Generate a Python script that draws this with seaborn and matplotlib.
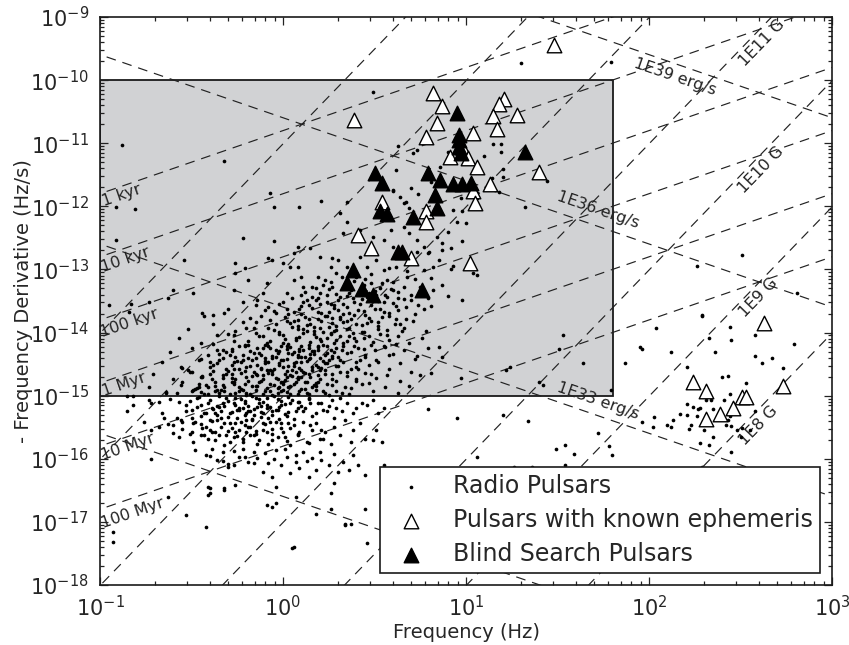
import matplotlib
matplotlib.use("Agg")
import numpy as np
import pandas as pd
import matplotlib.pyplot as plt
import seaborn as sns
from matplotlib.patches import Rectangle
from matplotlib.ticker import LogLocator, FixedLocator, NullFormatter

# ---------------- data (log10 frequency [Hz], log10 -fdot [Hz/s]) ----------------
radio_upper = [
    (0.49,-10.19),(-0.88,-11.03),(-0.32,-11.28),(0.63,-11.04),(0.62,-11.42),(0.71,-11.16),(-0.07,-11.79),
    (-0.05,-12.01),(0.09,-12.01),(0.21,-11.92),(0.60,-11.74),(0.64,-11.85),(0.66,-11.95),(0.69,-12.03),
    (0.35,-11.93),(-0.91,-12.01),(-0.81,-12.04),(-0.91,-12.53),(-0.22,-12.50),(-0.05,-12.55),(0.31,-12.11),
    (0.35,-12.25),(0.42,-12.38),(0.33,-12.42),(0.38,-12.53),(0.49,-12.49),(0.55,-12.53),(0.59,-12.38),
    (0.66,-12.33),(0.69,-12.42),(0.60,-12.64),(0.66,-12.74),(0.73,-12.53),(0.77,-12.64),(0.08,-12.64),
    (0.15,-12.66),(0.20,-12.80),(0.27,-12.82),(0.30,-12.85),(0.06,-12.74),(-0.08,-12.82),(-0.06,-12.85),
    (0.00,-12.90),(0.04,-12.96),(-0.26,-12.90),(-0.21,-12.98),(-0.54,-12.85),(-0.60,-13.33),(-0.95,-13.56),
    (-0.84,-13.68),(-0.73,-13.52),(-0.63,-13.45),(-0.49,-13.37),(-0.44,-13.69),(-0.38,-13.72),(-0.32,-13.69),
    (-0.27,-13.33),(-0.26,-13.06),(-0.22,-13.52),(-0.19,-13.17),(-0.14,-13.48),(-0.11,-13.37),(-0.09,-13.22),
    (-0.08,-13.60),(-0.04,-13.69),(0.02,-13.37),(0.06,-13.17),(0.08,-12.96),(0.10,-13.12),(0.11,-13.28),
    (0.13,-13.48),(0.16,-13.28),(0.19,-13.12),(0.20,-13.37),(0.23,-13.17),(0.26,-12.96),(0.27,-13.28),
    (0.30,-13.48),(0.32,-13.12),(0.35,-12.96),(0.37,-13.33),(0.40,-13.12),(0.42,-12.80),(0.46,-12.96),
    (0.48,-13.22),(0.51,-12.85),(0.55,-13.01),(0.57,-13.17),(0.60,-13.33),(0.62,-12.96),(0.64,-12.74),
    (0.68,-13.12),(0.71,-12.90),(0.75,-13.28),(0.77,-13.01),(0.79,-12.74),
    (0.35,-13.42),(0.42,-13.55),(0.47,-13.38),(0.52,-13.50),(0.57,-13.44),(0.62,-13.58),(0.66,-13.47),
    (0.70,-13.40),(0.74,-13.56),(0.44,-13.25),(0.53,-13.30),(0.60,-13.20),(0.66,-13.28),(0.72,-13.15),
    (0.28,-13.57),(0.20,-13.55),(0.10,-13.58),(0.00,-13.52),(-0.15,-13.57),(0.16,-13.44),(0.24,-13.40),
    (0.40,-13.05),(0.48,-13.08),(0.58,-12.98),(0.68,-13.03),(0.79,-13.45),(0.82,-13.32),
    (0.14,-13.57),(0.19,-13.45),(0.24,-13.52),(0.29,-13.39),(0.33,-13.55),(0.38,-13.46),(0.42,-13.33),
    (0.46,-13.44),(0.51,-13.40),(0.55,-13.52),(0.59,-13.31),(0.63,-13.45),(0.34,-13.27),(0.45,-13.15),
    (0.54,-13.22),(0.26,-13.20),(0.18,-13.30),(0.10,-13.40),(0.02,-13.62),(0.08,-13.80),(0.17,-13.91),
    (0.27,-13.77),(0.36,-13.69),(0.46,-13.85),(0.55,-13.68),(0.62,-13.79),(-0.07,-13.80),(-0.16,-13.92),
]
radio_young = [
    (1.30,-9.73),(1.79,-9.71),(0.73,-11.11),(0.90,-11.14),(1.10,-11.20),(1.15,-11.01),(1.19,-11.01),
    (1.19,-11.14),(0.86,-11.38),(0.81,-11.61),(0.92,-11.69),(0.60,-11.76),(0.70,-11.71),(0.67,-11.93),
    (0.74,-11.81),(1.01,-11.31),(1.20,-11.41),(1.20,-11.54),(1.14,-11.55),(1.16,-11.74),(1.18,-11.77),
    (1.06,-11.87),(1.06,-11.79),(0.97,-11.87),(0.93,-12.06),(0.95,-12.25),(1.00,-12.26),(0.98,-12.07),
    (1.32,-12.01),(1.44,-11.60),(0.90,-12.41),(0.84,-12.49),(0.87,-12.58),(0.92,-12.66),(0.98,-12.55),
    (0.87,-12.69),(0.80,-12.72),(0.73,-12.72),(0.85,-12.85),(0.82,-12.96),(0.92,-12.99),(1.04,-13.06),
    (0.87,-13.25),(0.98,-13.48),(1.06,-13.09),(0.93,-12.95),(0.90,-13.42),(0.81,-13.58),(0.81,-13.14),
]
radio_core = [
    (-0.43,-13.74),(-0.30,-13.62),(-0.18,-13.77),(-0.05,-13.66),(0.03,-13.71),(0.09,-13.63),(0.14,-13.79),
    (0.19,-13.68),(0.24,-13.74),(0.28,-13.61),(0.33,-13.70),(0.37,-13.78),(0.41,-13.65),(0.45,-13.72),
    (0.50,-13.62),(0.54,-13.76),(0.58,-13.69),(0.63,-13.64),(0.67,-13.78),(0.72,-13.70),(0.77,-13.63),
    (0.12,-13.75),(0.31,-13.79),
    (-0.52,-13.95),(-0.38,-13.86),(-0.26,-13.97),(-0.15,-13.83),(-0.08,-13.92),(-0.02,-13.99),(0.04,-13.85),
    (0.08,-13.94),(0.13,-13.88),(0.17,-13.98),(0.21,-13.82),(0.25,-13.91),(0.29,-13.96),(0.33,-13.84),
    (0.36,-13.93),(0.40,-13.87),(0.44,-13.99),(0.48,-13.81),(0.52,-13.90),(0.57,-13.96),(0.61,-13.86),
    (0.66,-13.93),(0.71,-13.82),(0.78,-13.97),(0.22,-13.99),(0.02,-13.81),
    (-0.57,-14.08),(-0.45,-14.16),(-0.36,-14.04),(-0.27,-14.13),(-0.19,-14.19),(-0.13,-14.06),(-0.07,-14.14),
    (-0.02,-14.02),(0.03,-14.18),(0.07,-14.09),(0.11,-14.01),(0.15,-14.15),(0.18,-14.07),(0.22,-14.19),
    (0.26,-14.03),(0.29,-14.12),(0.33,-14.17),(0.36,-14.05),(0.40,-14.14),(0.44,-14.08),(0.48,-14.19),
    (0.53,-14.03),(0.58,-14.12),(0.63,-14.06),(0.69,-14.16),(0.76,-14.09),(0.01,-14.11),(0.20,-14.11),
    (0.38,-14.01),(-0.10,-14.20),
    (-0.62,-14.31),(-0.50,-14.24),(-0.41,-14.36),(-0.33,-14.27),(-0.26,-14.38),(-0.21,-14.22),(-0.16,-14.32),
    (-0.11,-14.25),(-0.06,-14.37),(-0.02,-14.29),(0.02,-14.21),(0.05,-14.34),(0.09,-14.26),(0.12,-14.39),
    (0.16,-14.30),(0.19,-14.23),(0.23,-14.35),(0.26,-14.27),(0.30,-14.38),(0.33,-14.22),(0.37,-14.31),
    (0.41,-14.25),(0.45,-14.36),(0.50,-14.28),(0.55,-14.21),(0.60,-14.34),(0.66,-14.27),(0.73,-14.37),
    (0.79,-14.24),(-0.08,-14.22),(0.14,-14.24),(0.28,-14.31),(0.08,-14.38),(-0.28,-14.30),
    (-0.66,-14.47),(-0.55,-14.56),(-0.46,-14.43),(-0.38,-14.52),(-0.31,-14.58),(-0.25,-14.45),(-0.20,-14.54),
    (-0.15,-14.41),(-0.10,-14.49),(-0.05,-14.57),(-0.01,-14.44),(0.03,-14.53),(0.07,-14.46),(0.10,-14.59),
    (0.14,-14.42),(0.18,-14.51),(0.21,-14.56),(0.25,-14.44),(0.29,-14.53),(0.33,-14.47),(0.37,-14.58),
    (0.42,-14.43),(0.47,-14.52),(0.52,-14.46),(0.58,-14.57),(0.64,-14.49),(0.72,-14.42),(-0.22,-14.43),
    (0.00,-14.55),(0.16,-14.59),(-0.12,-14.58),(0.27,-14.41),(0.40,-14.55),(-0.35,-14.44),
    (-0.71,-14.66),(-0.60,-14.74),(-0.51,-14.63),(-0.44,-14.71),(-0.37,-14.78),(-0.31,-14.65),(-0.26,-14.73),
    (-0.21,-14.61),(-0.17,-14.69),(-0.12,-14.77),(-0.08,-14.64),(-0.04,-14.72),(0.00,-14.79),(0.04,-14.67),
    (0.08,-14.74),(0.11,-14.62),(0.15,-14.70),(0.19,-14.78),(0.23,-14.65),(0.27,-14.73),(0.31,-14.62),
    (0.35,-14.69),(0.40,-14.76),(0.45,-14.64),(0.51,-14.72),(0.57,-14.67),(0.64,-14.77),(0.70,-14.63),
    (-0.28,-14.79),(-0.06,-14.61),(0.13,-14.79),(0.02,-14.70),(-0.15,-14.66),(-0.40,-14.66),
    (-0.73,-14.86),(-0.64,-14.95),(-0.56,-14.83),(-0.49,-14.91),(-0.43,-14.98),(-0.37,-14.85),(-0.32,-14.93),
    (-0.27,-14.81),(-0.23,-14.89),(-0.18,-14.97),(-0.14,-14.84),(-0.10,-14.92),(-0.06,-14.99),(-0.02,-14.87),
    (0.02,-14.94),(0.06,-14.82),(0.10,-14.90),(0.14,-14.97),(0.18,-14.85),(0.22,-14.92),(0.27,-14.83),
    (0.32,-14.95),(0.37,-14.88),(0.43,-14.81),(0.49,-14.93),(0.56,-14.86),(0.63,-14.96),(0.69,-14.84),
    (-0.46,-14.81),(-0.20,-14.99),(0.00,-14.82),(0.25,-14.99),(-0.35,-14.96),(0.08,-14.98),
    (-0.83,-13.55),(-0.85,-15.01),(-0.82,-15.00),(-0.56,-14.55),(-0.52,-14.59),(-0.45,-14.71),(-0.36,-14.48),
    (-0.31,-14.31),(-0.27,-14.04),(-0.21,-14.20),(-0.47,-14.88),(-0.41,-14.86),(-0.36,-14.91),(-0.64,-14.94),
]
radio_core_dense = [
    (0.05,-13.46),(0.12,-13.35),(0.18,-13.49),(0.25,-13.31),(0.31,-13.44),(0.36,-13.38),(0.43,-13.47),
    (0.50,-13.34),(0.56,-13.41),(0.63,-13.36),(0.70,-13.49),(0.22,-13.24),(0.39,-13.19),(0.29,-13.05),
    (-0.10,-13.64),(-0.02,-13.55),(0.06,-13.68),(0.11,-13.52),(0.16,-13.61),(0.21,-13.69),(0.26,-13.54),
    (0.30,-13.65),(0.35,-13.59),(0.39,-13.51),(0.44,-13.66),(0.48,-13.57),(0.53,-13.63),(0.60,-13.53),
    (0.67,-13.60),(0.25,-13.67),
    (-0.22,-13.83),(-0.12,-13.74),(-0.04,-13.87),(0.01,-13.76),(0.06,-13.82),(0.10,-13.71),(0.15,-13.86),
    (0.19,-13.78),(0.23,-13.73),(0.27,-13.85),(0.31,-13.76),(0.35,-13.81),(0.39,-13.72),(0.43,-13.88),
    (0.47,-13.77),(0.52,-13.84),(0.58,-13.74),(0.64,-13.87),(0.08,-13.89),(0.29,-13.89),
    (-0.30,-14.02),(-0.20,-13.93),(-0.11,-14.06),(-0.05,-13.96),(0.00,-14.04),(0.05,-13.91),(0.09,-14.07),
    (0.13,-13.98),(0.17,-14.03),(0.20,-13.92),(0.24,-14.09),(0.28,-13.97),(0.31,-14.05),(0.35,-13.94),
    (0.39,-14.08),(0.43,-13.99),(0.47,-14.06),(0.52,-13.95),(0.57,-14.04),(0.65,-13.98),(0.11,-13.94),
    (0.26,-14.01),(-0.15,-14.00),
    (-0.38,-14.18),(-0.28,-14.26),(-0.19,-14.13),(-0.14,-14.24),(-0.09,-14.16),(-0.04,-14.28),(0.00,-14.17),
    (0.04,-14.23),(0.07,-14.12),(0.11,-14.27),(0.14,-14.19),(0.17,-14.29),(0.21,-14.14),(0.24,-14.22),
    (0.28,-14.17),(0.32,-14.28),(0.35,-14.13),(0.39,-14.21),(0.44,-14.26),(0.49,-14.15),(0.56,-14.23),
    (0.62,-14.18),(-0.01,-14.22),(0.19,-14.21),(0.09,-14.29),
    (-0.45,-14.42),(-0.35,-14.34),(-0.27,-14.46),(-0.22,-14.36),(-0.17,-14.44),(-0.13,-14.33),(-0.08,-14.47),
    (-0.04,-14.38),(0.00,-14.43),(0.03,-14.32),(0.06,-14.48),(0.10,-14.39),(0.13,-14.45),(0.17,-14.34),
    (0.20,-14.41),(0.24,-14.49),(0.27,-14.37),(0.31,-14.44),(0.35,-14.33),(0.40,-14.46),(0.45,-14.39),
    (0.51,-14.44),(0.58,-14.35),(-0.10,-14.41),(0.08,-14.35),(0.22,-14.45),
    (-0.50,-14.63),(-0.40,-14.55),(-0.33,-14.67),(-0.27,-14.57),(-0.23,-14.64),(-0.18,-14.53),(-0.14,-14.68),
    (-0.09,-14.59),(-0.06,-14.65),(-0.02,-14.52),(0.02,-14.61),(0.05,-14.69),(0.09,-14.56),(0.12,-14.64),
    (0.16,-14.54),(0.19,-14.67),(0.23,-14.59),(0.27,-14.65),(0.30,-14.53),(0.35,-14.62),(0.41,-14.57),
    (0.48,-14.66),(-0.12,-14.56),(0.07,-14.62),(-0.30,-14.61),
    (-0.55,-14.78),(-0.46,-14.86),(-0.39,-14.74),(-0.33,-14.83),(-0.28,-14.72),(-0.24,-14.87),(-0.19,-14.77),
    (-0.15,-14.84),(-0.11,-14.73),(-0.07,-14.81),(-0.03,-14.88),(0.01,-14.75),(0.04,-14.84),(0.08,-14.71),
    (0.12,-14.79),(0.16,-14.86),(0.20,-14.74),(0.24,-14.82),(0.29,-14.77),(0.34,-14.87),(0.40,-14.73),
    (0.47,-14.80),(-0.21,-14.81),(-0.01,-14.79),(0.18,-14.80),
    (-0.58,-14.96),(-0.50,-14.92),(-0.41,-14.97),(-0.34,-14.91),(-0.29,-14.98),(-0.24,-14.93),(-0.20,-14.95),
    (-0.15,-14.91),(-0.11,-14.97),(-0.07,-14.93),(-0.03,-14.96),(0.00,-14.91),(0.04,-14.97),(0.09,-14.93),
    (0.13,-14.95),(0.18,-14.91),(0.23,-14.96),(0.29,-14.92),(0.36,-14.97),(-0.45,-14.94),(-0.26,-14.96),
]
radio_peak = [
    (-0.36,-14.27),(-0.29,-14.35),(-0.24,-14.21),(-0.18,-14.30),(-0.12,-14.36),(-0.07,-14.24),(-0.03,-14.33),
    (0.02,-14.26),(0.06,-14.31),(0.10,-14.22),(0.15,-14.34),(0.19,-14.27),(0.24,-14.32),(0.29,-14.24),
    (-0.40,-14.47),(-0.33,-14.41),(-0.28,-14.52),(-0.23,-14.47),(-0.19,-14.40),(-0.14,-14.51),(-0.10,-14.45),
    (-0.06,-14.40),(-0.02,-14.49),(0.02,-14.42),(0.06,-14.53),(0.10,-14.47),(0.15,-14.40),(0.19,-14.55),
    (0.23,-14.48),
    (-0.44,-14.69),(-0.38,-14.61),(-0.33,-14.72),(-0.28,-14.66),(-0.24,-14.58),(-0.20,-14.70),(-0.16,-14.63),
    (-0.11,-14.68),(-0.07,-14.60),(-0.03,-14.74),(0.01,-14.66),(0.05,-14.59),(0.10,-14.71),(0.14,-14.65),
    (0.20,-14.60),
    (-0.48,-14.89),(-0.42,-14.83),(-0.37,-14.92),(-0.32,-14.86),(-0.27,-14.78),(-0.22,-14.91),(-0.17,-14.85),
    (-0.13,-14.78),(-0.09,-14.88),(-0.05,-14.83),(-0.01,-14.92),(0.03,-14.86),(0.07,-14.79),(0.12,-14.89),
    (0.17,-14.83),
    (-0.51,-15.09),(-0.46,-15.02),(-0.40,-15.07),(-0.35,-15.00),(-0.30,-15.09),(-0.26,-15.03),(-0.21,-15.08),
    (-0.17,-15.01),(-0.13,-15.06),(-0.09,-15.14),(-0.05,-15.01),(-0.01,-15.08),(0.03,-15.02),(0.08,-15.10),
    (0.14,-15.05),
    (-0.53,-15.24),(-0.47,-15.18),(-0.42,-15.27),(-0.38,-15.21),(-0.32,-15.16),(-0.28,-15.26),(-0.24,-15.19),
    (-0.20,-15.27),(-0.16,-15.21),(-0.12,-15.17),(-0.06,-15.24),(-0.02,-15.18),(0.03,-15.26),(0.08,-15.20),
    (-0.55,-15.41),(-0.50,-15.36),(-0.45,-15.45),(-0.39,-15.40),(-0.34,-15.36),(-0.29,-15.43),(-0.25,-15.36),
    (-0.21,-15.46),(-0.17,-15.39),(-0.12,-15.34),(-0.07,-15.42),(-0.02,-15.37),(0.03,-15.44),
    (-0.50,-15.57),(-0.45,-15.63),(-0.40,-15.55),(-0.35,-15.62),(-0.30,-15.56),(-0.25,-15.64),(-0.20,-15.57),
    (-0.16,-15.63),(-0.11,-15.55),(-0.06,-15.61),(0.00,-15.58),
]
radio_lower = [
    (-0.82,-15.15),(-0.73,-15.07),(-0.68,-15.10),(-0.57,-15.10),(-0.45,-15.15),(-0.43,-15.28),(-0.37,-15.28),
    (-0.35,-15.18),(-0.33,-15.12),(-0.29,-15.28),(-0.26,-15.15),(-0.24,-15.23),(-0.21,-15.12),(-0.18,-15.25),
    (-0.16,-15.31),(-0.14,-15.18),(-0.13,-15.12),(-0.11,-15.28),(-0.09,-15.20),(-0.06,-15.31),(-0.04,-15.23),
    (-0.01,-15.15),(0.02,-15.33),(0.04,-15.12),(0.07,-15.25),(0.09,-15.10),(0.12,-15.20),(0.15,-15.12),
    (0.18,-15.28),(0.21,-15.12),(0.24,-15.25),(0.27,-15.07),(0.29,-15.20),(0.32,-15.25),(0.35,-15.12),
    (0.38,-15.28),(0.40,-15.20),(0.43,-15.12),(0.46,-15.15),(0.49,-15.07),(0.52,-15.28),(0.55,-15.20),
    (-0.85,-15.25),(-0.76,-15.41),(-0.72,-15.55),(-0.68,-15.49),(-0.65,-15.36),(-0.60,-15.47),(-0.56,-15.39),
    (-0.51,-15.60),(-0.49,-15.44),(-0.44,-15.52),(-0.41,-15.68),(-0.39,-15.57),(-0.36,-15.39),(-0.34,-15.49),
    (-0.31,-15.62),(-0.29,-15.73),(-0.26,-15.44),(-0.24,-15.55),(-0.22,-15.68),(-0.20,-15.39),(-0.18,-15.49),
    (-0.15,-15.60),(-0.14,-15.76),(-0.11,-15.44),(-0.09,-15.57),(-0.06,-15.70),(-0.04,-15.41),(-0.01,-15.52),
    (0.01,-15.65),(0.04,-15.78),(0.06,-15.47),(0.08,-15.60),(0.11,-15.41),(0.13,-15.73),(0.16,-15.55),
    (0.18,-15.44),(0.20,-15.68),(0.23,-15.57),(0.26,-15.76),(0.28,-15.49),(0.31,-15.62),(0.34,-15.39),
    (0.37,-15.73),(0.38,-15.55),(0.42,-15.44),(0.45,-15.68),(0.49,-15.70),(0.51,-15.55),(0.54,-15.73),
    (-0.42,-15.94),(-0.39,-15.84),(-0.36,-16.02),(-0.33,-15.89),(-0.30,-16.13),(-0.27,-16.10),(-0.24,-15.97),
    (-0.22,-15.84),(-0.19,-16.05),(-0.16,-15.89),(-0.14,-15.99),(-0.11,-16.21),(-0.08,-16.07),(-0.06,-16.29),
    (-0.04,-15.86),(-0.01,-16.10),(0.02,-15.97),(0.04,-16.23),(0.07,-16.05),(0.09,-16.15),(0.11,-15.89),
    (0.14,-16.29),(0.16,-15.99),(0.18,-16.18),(0.21,-16.02),(0.25,-16.10),(0.28,-15.92),(0.30,-16.21),
    (0.33,-16.05),(0.36,-16.18),(0.38,-15.94),(0.41,-16.10),(0.45,-16.26),(0.55,-16.10),
    (-0.53,-16.89),(-0.42,-17.08),(-0.40,-16.47),(-0.41,-16.58),(-0.32,-16.47),(-0.26,-16.42),(-0.09,-16.73),
    (-0.06,-16.76),(-0.04,-16.44),(0.06,-17.39),(0.07,-16.60),(0.18,-16.87),(0.26,-16.79),(0.26,-16.55),
    (0.28,-16.39),(0.34,-17.05),(0.37,-17.03),(0.45,-16.79),(0.46,-17.34),(-0.93,-17.16),(-0.63,-16.60),
    (-0.93,-17.32),(-0.72,-15.12),(-0.40,-16.54),(-0.41,-16.45),(-0.32,-16.50),(-0.72,-16.00),(-0.60,-15.59),
    (0.05,-17.42),(0.34,-17.03),(-0.04,-16.70),
]
radio_lower_dense = [
    (-0.62,-15.05),(-0.53,-15.14),(-0.47,-15.03),(-0.41,-15.11),(-0.36,-15.17),(-0.31,-15.04),(-0.27,-15.12),
    (-0.23,-15.06),(-0.19,-15.16),(-0.15,-15.03),(-0.11,-15.10),(-0.07,-15.18),(-0.03,-15.05),(0.01,-15.13),
    (0.05,-15.07),(0.10,-15.16),(0.14,-15.04),(0.19,-15.11),(0.25,-15.17),(0.31,-15.03),(-0.39,-15.19),
    (-0.22,-15.19),(-0.09,-15.03),
    (-0.66,-15.27),(-0.58,-15.35),(-0.50,-15.23),(-0.45,-15.32),(-0.40,-15.38),(-0.34,-15.25),(-0.30,-15.34),
    (-0.25,-15.22),(-0.21,-15.30),(-0.17,-15.37),(-0.12,-15.26),(-0.08,-15.35),(-0.03,-15.22),(0.01,-15.29),
    (0.06,-15.37),(0.11,-15.25),(0.16,-15.33),(0.22,-15.23),(0.28,-15.36),(-0.36,-15.31),(-0.19,-15.24),
    (-0.63,-15.45),(-0.55,-15.53),(-0.48,-15.42),(-0.42,-15.50),(-0.37,-15.57),(-0.32,-15.44),(-0.28,-15.52),
    (-0.23,-15.41),(-0.19,-15.49),(-0.15,-15.56),(-0.10,-15.45),(-0.06,-15.53),(-0.01,-15.43),(0.04,-15.51),
    (0.09,-15.58),(0.15,-15.46),(0.21,-15.54),(-0.26,-15.58),
    (-0.57,-15.65),(-0.49,-15.74),(-0.43,-15.63),(-0.37,-15.71),(-0.32,-15.78),(-0.27,-15.66),(-0.22,-15.74),
    (-0.18,-15.62),(-0.13,-15.70),(-0.08,-15.77),(-0.03,-15.65),(0.02,-15.72),(0.08,-15.63),(0.14,-15.75),
    (0.22,-15.68),
    (-0.48,-15.86),(-0.40,-15.95),(-0.33,-16.03),(-0.27,-15.88),(-0.21,-15.97),(-0.16,-16.06),(-0.10,-15.91),
    (-0.05,-16.00),(0.01,-15.85),(0.07,-15.94),(0.13,-16.04),(0.20,-15.90),(-0.30,-16.08),
]
radio_fast = [
    (2.04,-13.93),(1.96,-14.26),(2.12,-14.31),(2.29,-13.74),(2.44,-13.91),(2.45,-14.12),(2.33,-14.09),
    (2.36,-14.31),(2.58,-14.04),(2.58,-14.37),(2.62,-14.48),(2.67,-14.40),(2.79,-14.18),(2.73,-14.56),
    (2.21,-14.55),(2.40,-14.71),(2.43,-14.69),(2.53,-14.80),(2.44,-14.97),(2.41,-15.07),(2.35,-15.21),
    (2.31,-15.07),(2.34,-15.07),(2.28,-15.20),(2.27,-15.21),(2.21,-15.13),(2.24,-15.18),(2.17,-15.29),
    (2.21,-15.31),(2.26,-15.32),(2.44,-15.32),(2.45,-15.28),(2.46,-15.18),(2.43,-15.39),(2.45,-15.48),
    (2.42,-15.47),(2.51,-15.51),(2.58,-15.24),(2.23,-15.47),(2.22,-15.53),(2.13,-15.39),(2.10,-15.47),
    (2.12,-15.50),(2.03,-15.34),(2.02,-15.50),(1.96,-15.42),(2.30,-15.55),(2.35,-15.66),(2.48,-15.55),
    (2.50,-15.66),(2.55,-15.55),(2.45,-15.89),(2.28,-15.75),(2.33,-15.78),
    (1.95,-14.23),(1.87,-14.48),(1.64,-14.48),(1.53,-14.04),(1.51,-14.26),(1.42,-14.83),(1.40,-14.78),
    (1.24,-14.55),(1.22,-14.59),(0.97,-14.72),(0.81,-14.64),(0.85,-14.23),(0.87,-14.39),(0.75,-14.67),
    (0.79,-15.21),(0.95,-15.36),(1.20,-15.31),(1.34,-15.40),(1.79,-14.91),(1.72,-15.59),(1.78,-15.80),
    (1.80,-15.94),(1.49,-15.85),(1.54,-15.78),(1.59,-15.93),(1.06,-15.97),(1.26,-16.13),(1.36,-16.13),
    (1.54,-16.10),(2.29,-16.13),(2.81,-13.37),(2.51,-12.77),(2.26,-12.95),(2.29,-13.72),
]
known_ephemeris = [
    (1.48,-9.44),(0.82,-10.20),(1.21,-10.30),(1.18,-10.38),(0.87,-10.41),(1.28,-10.55),(1.15,-10.57),
    (0.84,-10.68),(1.17,-10.78),(1.04,-10.84),(0.39,-10.63),(0.78,-10.90),(0.98,-11.06),(0.91,-11.22),
    (1.01,-11.23),(1.06,-11.38),(1.40,-11.46),(1.13,-11.65),(1.04,-11.76),(1.05,-11.95),(0.54,-11.93),
    (0.78,-12.07),(0.78,-12.25),(0.41,-12.45),(0.48,-12.66),(0.70,-12.82),(1.02,-12.90),
    (2.63,-13.85),(2.24,-14.78),(2.31,-14.93),(2.51,-15.02),(2.53,-15.02),(2.73,-14.85),(2.46,-15.20),
    (2.39,-15.29),(2.31,-15.37),
]
blind_search = [
    (0.95,-10.52),(0.96,-10.87),(0.96,-10.95),(0.96,-11.06),(0.97,-11.16),(1.32,-11.14),(0.50,-11.47),
    (0.54,-11.63),(0.79,-11.47),(0.86,-11.58),(0.93,-11.65),(0.98,-11.65),(1.03,-11.63),(0.83,-11.82),
    (0.84,-12.03),(0.53,-12.07),(0.57,-12.12),(0.71,-12.17),(0.63,-12.72),(0.65,-12.72),(0.38,-13.01),
    (0.35,-13.22),(0.43,-13.31),(0.49,-13.41),(0.76,-13.33),
]

# reference lines
age_years = [1e3, 1e4, 1e5, 1e6, 1e7, 1e8]
age_labels = ["1 kyr", "10 kyr", "100 kyr", "1 Myr", "10 Myr", "100 Myr"]
age_label_pos = [(-0.88,-11.82),(-0.86,-12.84),(-0.84,-13.85),(-0.87,-14.83),(-0.85,-15.81),(-0.82,-16.86)]
b_fields = [1e8, 1e9, 1e10, 1e11, 1e12, 1e13, 1e14]
b_labels = ["1E8 G", "1E9 G", "1E10 G", "1E11 G"]
b_label_pos = [(2.60,-15.47),(2.60,-13.45),(2.61,-11.42),(2.62,-9.41)]
edot_values = [1e30, 1e33, 1e36, 1e39]
edot_labels = ["1E33 erg/s", "1E36 erg/s", "1E39 erg/s"]
edot_label_pos = [(1.72,-15.08),(1.72,-12.06),(2.14,-9.95)]
box_fmax = 63.5
box_fdot = (1e-15, 1e-10)

YEAR = 3.156e7
MOI = 1e45

def to_df(pts):
    a = np.array(pts, dtype=float)
    return pd.DataFrame({"f": 10 ** a[:, 0], "fdot": 10 ** a[:, 1]})

radio_df = to_df(radio_upper + radio_young + radio_core + radio_core_dense + radio_peak
                 + radio_lower + radio_lower_dense + radio_fast)
known_df = to_df(known_ephemeris)
blind_df = to_df(blind_search)

# ---------------- plot ----------------
sns.set_style("ticks")
plt.rcParams['font.family'] = ['DejaVu Sans']
plt.rcParams['mathtext.fontset'] = 'dejavusans'
plt.rcParams['lines.scale_dashes'] = False

fig = plt.figure(figsize=(8.49, 6.45), dpi=100)
ax = fig.add_axes([100/849, 60/645, 732/849, 568/645])
ax.set_xscale('log')
ax.set_yscale('log')
ax.set_xlim(0.1, 1000)
ax.set_ylim(1e-18, 1e-9)

ax.add_patch(Rectangle((0.1, box_fdot[0]), box_fmax - 0.1, box_fdot[1] - box_fdot[0],
                       facecolor='#d1d2d4', edgecolor='#1a1a1a', lw=1.3, zorder=0.5))

f = np.logspace(-1.05, 3.05, 800)
dash = dict(color='#222222', lw=0.85, linestyle=(0, (7, 5)), zorder=1)
for tau in age_years:
    ax.plot(f, f / (2 * tau * YEAR), **dash)
for B in b_fields:
    ax.plot(f, (B / 3.2e19) ** 2 * f ** 3, **dash)
for E in edot_values:
    ax.plot(f, E / (4 * np.pi ** 2 * MOI * f), **dash)

ang_age = 19.0
ang_b = 46.0
for lab, (lx, ly) in zip(age_labels, age_label_pos):
    ax.text(10 ** lx, 10 ** ly, lab, rotation=ang_age, ha='center', va='center',
            fontsize=11.5, color='#222222', zorder=2)
for lab, (lx, ly) in zip(b_labels, b_label_pos):
    ax.text(10 ** lx, 10 ** ly, lab, rotation=ang_b, ha='center', va='center',
            fontsize=11.5, color='#222222', zorder=2)
for lab, (lx, ly) in zip(edot_labels, edot_label_pos):
    ax.text(10 ** lx, 10 ** ly, lab, rotation=-ang_age, ha='center', va='center',
            fontsize=11.5, color='#222222', zorder=2)

sns.scatterplot(data=radio_df, x='f', y='fdot', ax=ax, color='black', s=7, marker='o',
                linewidth=0, label='Radio Pulsars', zorder=3)
sns.scatterplot(data=known_df, x='f', y='fdot', ax=ax, color='white', edgecolor='black',
                s=110, marker='^', linewidth=1.0, label='Pulsars with known ephemeris', zorder=4)
sns.scatterplot(data=blind_df, x='f', y='fdot', ax=ax, color='black', edgecolor='black',
                s=110, marker='^', linewidth=1.0, label='Blind Search Pulsars', zorder=5)

ax.set_xlim(0.1, 1000)
ax.set_ylim(1e-18, 1e-9)
ax.xaxis.set_major_locator(FixedLocator([0.1, 1, 10, 100, 1000]))
ax.yaxis.set_major_locator(FixedLocator([10.0 ** k for k in range(-18, -8)]))
ax.xaxis.set_minor_locator(LogLocator(base=10, subs=np.arange(2, 10), numticks=50))
ax.yaxis.set_minor_locator(LogLocator(base=10, subs=np.arange(2, 10), numticks=50))
ax.xaxis.set_minor_formatter(NullFormatter())
ax.yaxis.set_minor_formatter(NullFormatter())
ax.tick_params(which='both', direction='in', top=True, right=True, width=0.9, color='#222222')
ax.tick_params(which='major', length=6, labelsize=15)
ax.tick_params(axis='y', which='major', pad=8)
ax.tick_params(axis='x', which='major', pad=7)
ax.tick_params(which='minor', length=3)
for sp in ax.spines.values():
    sp.set_linewidth(1.2)
    sp.set_color('#1a1a1a')

ax.set_xlabel('Frequency (Hz)', fontsize=14, labelpad=2)
ax.set_ylabel('- Frequency Derivative (Hz/s)', fontsize=14, labelpad=-2)

leg = ax.legend(loc='lower right', fontsize=17, frameon=True, fancybox=False,
                edgecolor='#1a1a1a', framealpha=1, labelspacing=0.42, borderaxespad=0.5,
                handletextpad=0.8, handlelength=2.0, borderpad=0.3)
leg.get_frame().set_linewidth(1.2)
leg.set_zorder(10)

fig.savefig('out.png', dpi=100)
